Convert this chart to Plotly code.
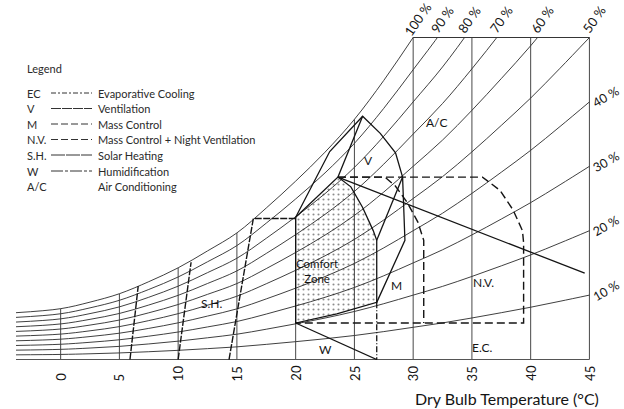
import plotly.graph_objects as go

# ---------------- data ----------------
# 100 % RH (saturation) curve of the chart: dry-bulb T (degC) -> humidity ratio (g/kg, chart scale)
SAT_T = [-3.8, 0, 2.5, 5, 7.5, 10, 12.5, 15, 17.5, 20, 22.5, 25, 27.5, 30, 32.5, 35, 37.5, 40, 42.5, 45]
SAT_W = [3.85, 4.18, 4.72, 5.41, 6.40, 7.54, 8.93, 10.41, 12.46, 14.67, 17.05, 19.75, 22.95, 26.48,
         30.07, 34.15, 38.50, 43.0, 47.9, 52.95]
TOP_W = 26.48                      # upper edge of the chart box
RH_LEVELS = [10, 20, 30, 40, 50, 60, 70, 80, 90, 100]

# where the RH curves leave the top of the box
RH_TOP_LABELS = ["100 %", "90 %", "80 %", "70 %", "60 %", "50 %"]
RH_TOP_T = [30, 32.1, 34.4, 37.1, 40.6, 45]
# RH curves labelled on the right edge
RH_RIGHT_LABELS = ["40 %", "30 %", "20 %", "10 %"]
RH_RIGHT_W = [21.2, 15.9, 10.6, 5.3]

# vertical dry-bulb lines
GRID_T = [0, 5, 10, 15, 20, 25, 30, 35, 40, 45]
GRID_TOP = [4.18, 5.41, 7.54, 10.41, 11.7, 19.75, 26.48, 26.48, 26.48, 26.48]
TICK_LABELS = ["0", "5", "10", "15", "20", "25", "30", "35", "40", "45"]

# comfort zone
COMFORT_T = [20, 23.6, 24.7, 25.7, 26.6, 26.9, 26.9, 23.5, 20, 20]
COMFORT_W = [11.7, 15.0, 14.2, 12.5, 10.6, 9.8, 4.7, 3.75, 3.0, 11.7]
# ventilation (outer + inner boundaries)
V_T = [20, 22.9, 25.7, 27.2, 28.5, 29.1, 29.3, 26.9]
V_W = [11.7, 17.1, 20.0, 18.6, 17.0, 15.0, 9.8, 4.7]
V_IN1_T = [25.7, 23.6]
V_IN1_W = [20.0, 15.0]
V_IN2_T = [29.1, 26.9]
V_IN2_W = [15.0, 9.8]
# mass control
M_T = [23.6, 27.6, 28.5, 29.5, 30.4, 30.9, 30.9]
M_W = [15.0, 15.0, 14.25, 12.9, 11.3, 9.8, 3.0]
# mass control + night ventilation
NV_T = [23.6, 35.9, 37.4, 38.5, 39.3, 39.4, 39.4, 20]
NV_W = [15.0, 15.0, 13.9, 12.3, 10.6, 9.6, 3.0, 3.0]
# evaporative cooling line
EC_T = [23.6, 44.6]
EC_W = [15.0, 7.1]
# humidification
W_T = [20, 26.9]
W_W = [3.0, 0]
W_EDGE_T = [26.9, 26.9]
W_EDGE_W = [4.7, 0]
# solar heating
SH_T = [14.33, 16.4, 20]
SH_W = [0, 11.6, 11.6]
SH2_T = [5.9, 6.6]
SH2_W = [0, 6.04]
SH3_T = [10.0, 11.1]
SH3_W = [0, 8.0]

ZONE_LABELS = ["A/C", "V", "M", "N.V.", "E.C.", "S.H.", "W", "Comfort<br>Zone"]
ZONE_T = [32.0, 26.2, 28.6, 36.0, 35.9, 12.9, 22.5, 21.8]
ZONE_W = [19.45, 16.4, 6.1, 6.3, 0.95, 4.6, 0.8, 7.3]

LEG_ABBR = ["EC", "V", "M", "N.V.", "S.H.", "W", "A/C"]
LEG_TEXT = ["Evaporative Cooling", "Ventilation", "Mass Control", "Mass Control + Night Ventilation",
            "Solar Heating", "Humidification", "Air Conditioning"]

# ---------------- figure ----------------
INK = "#141414"
FONT = "Lato"
fig = go.Figure()


def line(x, y, width=1.0, dash="solid", color=INK, shape="linear"):
    fig.add_trace(go.Scatter(x=x, y=y, mode="lines", line=dict(color=color, width=width, dash=dash, shape=shape),
                             hoverinfo="skip", showlegend=False))


# RH curves
for rh in RH_LEVELS:
    line(SAT_T, [rh / 100 * w for w in SAT_W], width=0.9, color="#2a2a2a", shape="spline")

# vertical dry-bulb lines
for t, top in zip(GRID_T, GRID_TOP):
    line([t, t], [0, top], width=0.9, color="#333333")

# base line and top of box
line([SAT_T[0], 45], [0, 0], width=1.0, color="#555555")
line([30, 45], [TOP_W, TOP_W], width=1.0, color="#333333")

# comfort zone (dotted)
fig.add_trace(go.Scatter(x=COMFORT_T, y=COMFORT_W, mode="lines", fill="toself",
                         fillcolor="rgba(0,0,0,0)",
                         fillpattern=dict(shape=".", fgcolor="#1a1a1a", bgcolor="rgba(0,0,0,0)",
                                          size=5, solidity=0.14),
                         line=dict(color=INK, width=1.3), hoverinfo="skip", showlegend=False))

line(V_T, V_W, width=1.3)
line(V_IN1_T, V_IN1_W, width=1.3)
line(V_IN2_T, V_IN2_W, width=1.3)
line(M_T, M_W, width=1.4, dash="8px,4px")
line(NV_T, NV_W, width=1.4, dash="8px,4px")
line(EC_T, EC_W, width=1.3)
line(W_T, W_W, width=1.3)
line(W_EDGE_T, W_EDGE_W, width=1.3, dash="6px,2px,1px,2px")
line(SH_T, SH_W, width=1.4, dash="7px,1.5px")
line(SH2_T, SH2_W, width=1.4, dash="7px,1.5px")
line(SH3_T, SH3_W, width=1.4, dash="7px,1.5px")

ann = []
# zone labels
for txt, t, w in zip(ZONE_LABELS, ZONE_T, ZONE_W):
    ann.append(dict(x=t, y=w, xref="x", yref="y", text=txt, showarrow=False,
                    font=dict(family=FONT, size=12 if txt != "Comfort<br>Zone" else 11.5, color=INK)))

# top RH labels
for txt, t in zip(RH_TOP_LABELS, RH_TOP_T):
    ann.append(dict(x=t, y=TOP_W, xref="x", yref="y", text=txt, showarrow=False, textangle=-55,
                    xanchor="center", yanchor="middle", xshift=5, yshift=18,
                    font=dict(family=FONT, size=13, color=INK)))
# right RH labels
for txt, w in zip(RH_RIGHT_LABELS, RH_RIGHT_W):
    ann.append(dict(x=45, y=w, xref="x", yref="y", text=txt, showarrow=False, textangle=-30,
                    xanchor="center", yanchor="middle", xshift=17, yshift=5,
                    font=dict(family=FONT, size=12.5, color=INK)))

# rotated tick labels
for t, lab in zip(GRID_T, TICK_LABELS):
    ann.append(dict(x=t, y=-23 / 323, xref="x", yref="paper", text=lab, showarrow=False, textangle=-90,
                    xanchor="center", yanchor="bottom", font=dict(family=FONT, size=13, color=INK)))

# axis title
ann.append(dict(x=(601 - 16) / 574, y=(360 - 398) / 323, xref="paper", yref="paper",
                text="Dry Bulb Temperature (°C)", showarrow=False, xanchor="right", yanchor="middle",
                font=dict(family=FONT, size=16, color=INK)))


# legend block (pixel positions converted to paper)
def PX(X):
    return (X - 16) / 574


def PY(Y):
    return (360 - Y) / 323


ann.append(dict(x=PX(25), y=PY(68), xref="paper", yref="paper", text="Legend", showarrow=False,
                xanchor="left", yanchor="middle", font=dict(family=FONT, size=11, color="#2a2a2a")))
ROW_Y = [93, 108.5, 124, 139.5, 155, 171, 186.5]
DASHES = ["5px,2px,2px,2px", "10px,1px", "7px,3px", "7px,3px", "14px,1px", "12px,2px,3px,2px", None]
shapes = []
for abbr, txt, yy, d in zip(LEG_ABBR, LEG_TEXT, ROW_Y, DASHES):
    ann.append(dict(x=PX(25), y=PY(yy), xref="paper", yref="paper", text=abbr, showarrow=False,
                    xanchor="left", yanchor="middle", font=dict(family=FONT, size=11, color="#2a2a2a")))
    ann.append(dict(x=PX(96), y=PY(yy), xref="paper", yref="paper", text=txt, showarrow=False,
                    xanchor="left", yanchor="middle", font=dict(family=FONT, size=11, color="#2a2a2a")))
    if d:
        shapes.append(dict(type="line", xref="paper", yref="paper", x0=PX(51), x1=PX(92),
                           y0=PY(yy), y1=PY(yy), line=dict(color="#333333", width=1, dash=d)))

fig.update_layout(
    width=624, height=409,
    margin=dict(l=16, r=34, t=37, b=49),
    paper_bgcolor="white", plot_bgcolor="white",
    xaxis=dict(range=[-3.8, 45.05], visible=False, fixedrange=True),
    yaxis=dict(range=[-0.04, 26.52], visible=False, fixedrange=True),
    annotations=ann, shapes=shapes, showlegend=False,
)
fig.write_html("out.html", config={"displayModeBar": False},
               post_script="document.body.style.margin='0';document.body.style.overflow='hidden';")
